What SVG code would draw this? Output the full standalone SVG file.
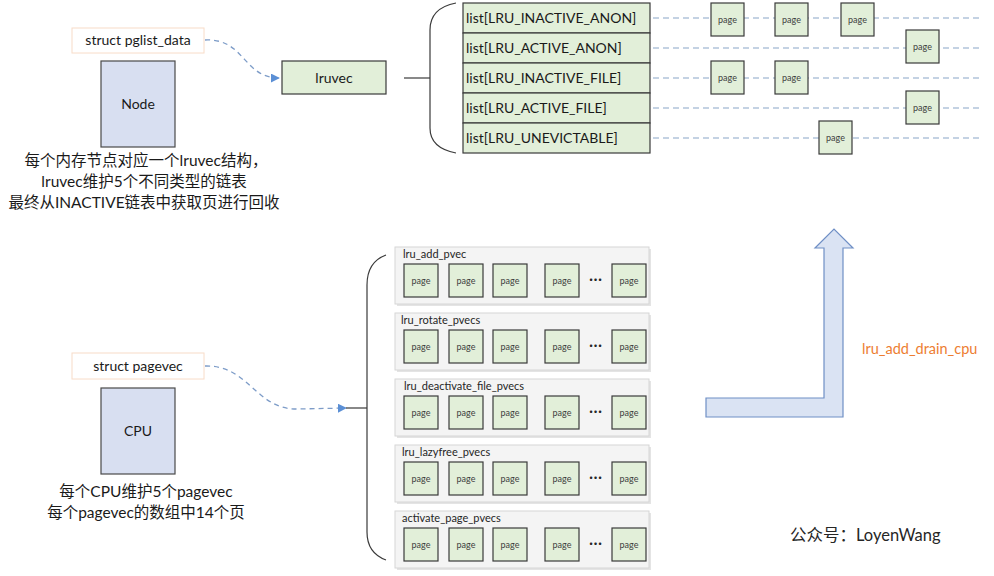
<svg xmlns="http://www.w3.org/2000/svg" width="994" height="576" viewBox="0 0 994 576">
<defs>
<marker id="arr" viewBox="0 0 10 10" refX="9" refY="5" markerWidth="9" markerHeight="9" markerUnits="userSpaceOnUse" orient="auto">
<path d="M0,0 L10,5 L0,10 z" fill="#5b8fd5"/>
</marker>
<style>
.t{font-family:Lato,"Noto Sans CJK SC",sans-serif;fill:#1a1a1a}
.cn{font-family:Lato,"Noto Sans CJK SC",sans-serif;font-size:15.5px;fill:#1a1a1a;text-anchor:middle}
.struct{fill:#ffffff;stroke:#f8dcc8;stroke-width:1}
.host{fill:#d8dff1;stroke:#4a4a4a;stroke-width:1.2}
.green{fill:#e2efd9;stroke:#3a3a3a;stroke-width:1.2}
.pg{fill:#e2efd9;stroke:#3a3a3a;stroke-width:1.2}
.pgt{font-family:Lato,sans-serif;font-size:9px;fill:#404040;text-anchor:middle}
.grp{fill:#f4f4f4;stroke:#d6d6d6;stroke-width:1}
.shadow{fill:#e4e4e4}
.glab{font-family:Lato,sans-serif;font-size:11px;fill:#262626}
.dash{stroke:#8aa6c8;stroke-width:1.2;stroke-dasharray:6,4;fill:none}
.conn{stroke:#7d9cc8;stroke-width:1.3;stroke-dasharray:5,4;fill:none}
.solid{stroke:#3a3a3a;stroke-width:1.2;fill:none}
.lt{font-family:Lato,sans-serif;font-size:14px;fill:#1a1a1a}
.dots{font-family:Lato,sans-serif;font-size:13px;font-weight:bold;fill:#262626;text-anchor:middle;letter-spacing:1px}
</style>
</defs>
<rect width="994" height="576" fill="#ffffff"/>

<!-- top-left node -->
<g id="pglist_data">
<rect class="struct" x="72" y="28" width="132" height="25"/>
<text class="t" x="138" y="45" font-size="14" text-anchor="middle">struct pglist_data</text>
</g>
<g id="node">
<rect class="host" x="101" y="61" width="74" height="86"/>
<text class="t" x="138" y="109" font-size="14" text-anchor="middle">Node</text>
</g>
<g id="node_note">
<text class="cn" x="146" y="166">每个内存节点对应一个lruvec结构，</text>
<text class="cn" x="144" y="187">lruvec维护5个不同类型的链表</text>
<text class="cn" x="144" y="208">最终从INACTIVE链表中获取页进行回收</text>
</g>
<g id="lruvec">
<rect class="green" x="282" y="61" width="104" height="33"/>
<text class="t" x="334" y="83" font-size="14" text-anchor="middle">lruvec</text>
</g>

<!-- lists -->
<g id="lists">
<rect class="green" x="463" y="3" width="187" height="30"/>
<rect class="green" x="463" y="33" width="187" height="30"/>
<rect class="green" x="463" y="63" width="187" height="30"/>
<rect class="green" x="463" y="93" width="187" height="30"/>
<rect class="green" x="463" y="123" width="187" height="30"/>
<text class="lt" x="466" y="23">list[LRU_INACTIVE_ANON]</text>
<text class="lt" x="466" y="53">list[LRU_ACTIVE_ANON]</text>
<text class="lt" x="466" y="83">list[LRU_INACTIVE_FILE]</text>
<text class="lt" x="466" y="113">list[LRU_ACTIVE_FILE]</text>
<text class="lt" x="466" y="143">list[LRU_UNEVICTABLE]</text>
</g>

<!-- connectors -->
<g id="connectors">
<path class="conn" d="M205,40 C245,38 243,78 279,78" marker-end="url(#arr)"/>
<path class="solid" d="M404,78 L430,78"/>
<path class="solid" d="M456,3 Q430,8 430,30 L430,128 Q430,148 456,153"/>
<path class="dash" d="M653,18 L982,18"/>
<path class="dash" d="M653,48 L982,48"/>
<path class="dash" d="M653,78 L982,78"/>
<path class="dash" d="M653,108 L982,108"/>
<path class="dash" d="M653,138 L982,138"/>
<path class="conn" d="M205,366 C250,365 255,410 298,409 L346,408" marker-end="url(#arr)"/>
<path class="solid" d="M346,408 L367,408"/>
<path class="solid" d="M386,255 Q367,262 367,285 L367,532 Q367,553 386,560"/>
</g>

<!-- top pages -->
<g id="list_pages">
<rect class="pg" x="711" y="3" width="33" height="33"/><text class="pgt" x="727.5" y="23">page</text>
<rect class="pg" x="775" y="3" width="33" height="33"/><text class="pgt" x="791.5" y="23">page</text>
<rect class="pg" x="841" y="3" width="33" height="33"/><text class="pgt" x="857.5" y="23">page</text>
<rect class="pg" x="906" y="30" width="33" height="33"/><text class="pgt" x="922.5" y="50">page</text>
<rect class="pg" x="711" y="61" width="33" height="33"/><text class="pgt" x="727.5" y="81">page</text>
<rect class="pg" x="775" y="61" width="33" height="33"/><text class="pgt" x="791.5" y="81">page</text>
<rect class="pg" x="906" y="91" width="33" height="33"/><text class="pgt" x="922.5" y="111">page</text>
<rect class="pg" x="819" y="121" width="33" height="33"/><text class="pgt" x="835.5" y="141">page</text>
</g>

<!-- bottom-left node -->
<g id="pagevec">
<rect class="struct" x="72" y="353" width="132" height="26"/>
<text class="t" x="138" y="371" font-size="14" text-anchor="middle">struct pagevec</text>
</g>
<g id="cpu">
<rect class="host" x="101" y="388" width="74" height="86"/>
<text class="t" x="138" y="436" font-size="14" text-anchor="middle">CPU</text>
</g>
<g id="cpu_note">
<text class="cn" x="146" y="497">每个CPU维护5个pagevec</text>
<text class="cn" x="146" y="518">每个pagevec的数组中14个页</text>
</g>

<!-- pvec groups -->
<g id="lru_add_pvec">
<rect class="shadow" x="397" y="249" width="254" height="57"/>
<rect class="grp" x="395" y="247" width="254" height="57"/>
<text class="glab" x="403" y="258">lru_add_pvec</text>
<rect class="pg" x="404" y="264" width="34" height="33"/><text class="pgt" x="421" y="284">page</text>
<rect class="pg" x="449" y="264" width="34" height="33"/><text class="pgt" x="466" y="284">page</text>
<rect class="pg" x="493" y="264" width="34" height="33"/><text class="pgt" x="510" y="284">page</text>
<rect class="pg" x="545" y="264" width="34" height="33"/><text class="pgt" x="562" y="284">page</text>
<text class="dots" x="596" y="284">···</text>
<rect class="pg" x="612" y="264" width="34" height="33"/><text class="pgt" x="629" y="284">page</text>
</g>
<g id="lru_rotate_pvecs">
<rect class="shadow" x="397" y="315" width="254" height="57"/>
<rect class="grp" x="395" y="313" width="254" height="57"/>
<text class="glab" x="401" y="324">lru_rotate_pvecs</text>
<rect class="pg" x="404" y="330" width="34" height="33"/><text class="pgt" x="421" y="350">page</text>
<rect class="pg" x="449" y="330" width="34" height="33"/><text class="pgt" x="466" y="350">page</text>
<rect class="pg" x="493" y="330" width="34" height="33"/><text class="pgt" x="510" y="350">page</text>
<rect class="pg" x="545" y="330" width="34" height="33"/><text class="pgt" x="562" y="350">page</text>
<text class="dots" x="596" y="350">···</text>
<rect class="pg" x="612" y="330" width="34" height="33"/><text class="pgt" x="629" y="350">page</text>
</g>
<g id="lru_deactivate_file_pvecs">
<rect class="shadow" x="397" y="381" width="254" height="57"/>
<rect class="grp" x="395" y="379" width="254" height="57"/>
<text class="glab" x="404" y="390">lru_deactivate_file_pvecs</text>
<rect class="pg" x="404" y="396" width="34" height="33"/><text class="pgt" x="421" y="416">page</text>
<rect class="pg" x="449" y="396" width="34" height="33"/><text class="pgt" x="466" y="416">page</text>
<rect class="pg" x="493" y="396" width="34" height="33"/><text class="pgt" x="510" y="416">page</text>
<rect class="pg" x="545" y="396" width="34" height="33"/><text class="pgt" x="562" y="416">page</text>
<text class="dots" x="596" y="416">···</text>
<rect class="pg" x="612" y="396" width="34" height="33"/><text class="pgt" x="629" y="416">page</text>
</g>
<g id="lru_lazyfree_pvecs">
<rect class="shadow" x="397" y="447" width="254" height="57"/>
<rect class="grp" x="395" y="445" width="254" height="57"/>
<text class="glab" x="402" y="456">lru_lazyfree_pvecs</text>
<rect class="pg" x="404" y="462" width="34" height="33"/><text class="pgt" x="421" y="482">page</text>
<rect class="pg" x="449" y="462" width="34" height="33"/><text class="pgt" x="466" y="482">page</text>
<rect class="pg" x="493" y="462" width="34" height="33"/><text class="pgt" x="510" y="482">page</text>
<rect class="pg" x="545" y="462" width="34" height="33"/><text class="pgt" x="562" y="482">page</text>
<text class="dots" x="596" y="482">···</text>
<rect class="pg" x="612" y="462" width="34" height="33"/><text class="pgt" x="629" y="482">page</text>
</g>
<g id="activate_page_pvecs">
<rect class="shadow" x="397" y="513" width="254" height="57"/>
<rect class="grp" x="395" y="511" width="254" height="57"/>
<text class="glab" x="402" y="522">activate_page_pvecs</text>
<rect class="pg" x="404" y="528" width="34" height="33"/><text class="pgt" x="421" y="548">page</text>
<rect class="pg" x="449" y="528" width="34" height="33"/><text class="pgt" x="466" y="548">page</text>
<rect class="pg" x="493" y="528" width="34" height="33"/><text class="pgt" x="510" y="548">page</text>
<rect class="pg" x="545" y="528" width="34" height="33"/><text class="pgt" x="562" y="548">page</text>
<text class="dots" x="596" y="548">···</text>
<rect class="pg" x="612" y="528" width="34" height="33"/><text class="pgt" x="629" y="548">page</text>
</g>

<!-- big L arrow -->
<g id="drain_arrow">
<polygon points="706,398 824,398 824,248 815,248 834,229 853,248 843,248 843,417 706,417" fill="#dae3f3" stroke="#6f8fc5" stroke-width="1.2"/>
<text x="862" y="354" font-family="Lato,sans-serif" font-size="14.5" fill="#ed7d31">lru_add_drain_cpu</text>
</g>

<g id="watermark">
<text x="790" y="541" font-family="Lato,'Noto Sans CJK SC',sans-serif" font-size="16.5" fill="#262626">公众号：LoyenWang</text>
</g>
</svg>
